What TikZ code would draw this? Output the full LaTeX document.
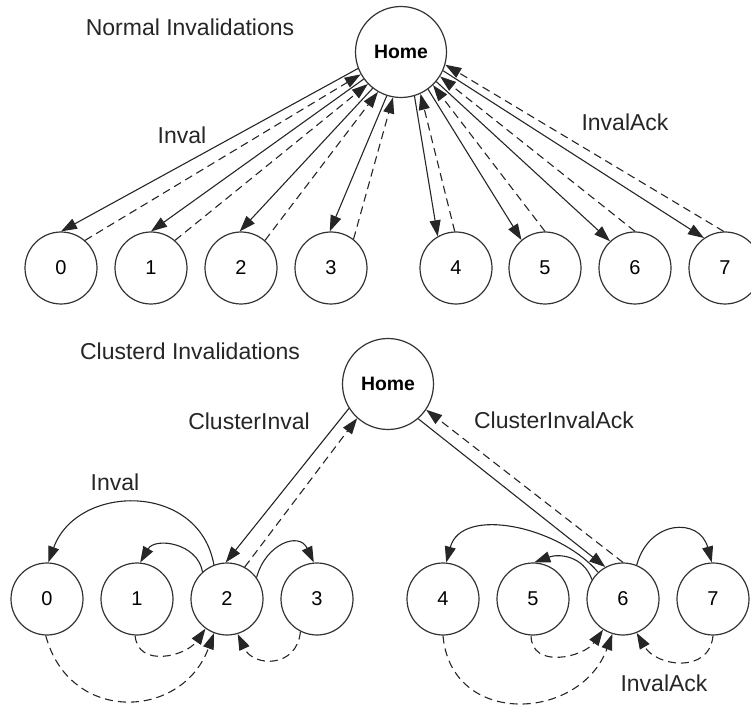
\documentclass[tikz,border=0pt]{standalone}
\usepackage{fontspec}
\setmainfont{Liberation Sans}
\usetikzlibrary{arrows.meta}

\begin{document}
\begin{tikzpicture}[
  x=0.5pt, y=-0.5pt,
  font=\fontsize{11.5pt}{13pt}\selectfont,
  line width=0.55pt,
  proc/.style={circle, draw=black!80, line width=0.6pt, minimum size=36pt,
               inner sep=0pt, font=\fontsize{10pt}{12pt}\selectfont},
  homenode/.style={circle, draw=black!80, line width=0.6pt, minimum size=45.5pt,
                   inner sep=0pt, font=\bfseries\fontsize{9.7pt}{12pt}\selectfont},
  inval/.style={-{Triangle[length=8pt, width=5.5pt]}, draw=black!85},
  ack/.style={inval, dash pattern=on 4pt off 2.5pt},
  lbl/.style={text=black!85, inner sep=0pt}
]
\useasboundingbox (0,0) rectangle (751,706);

% normal invalidations
\node[lbl] (normaltitle) at (190,27) {Normal Invalidations};
\node[homenode] (home) at (401,52) {Home};
\node[proc] (n0) at (61,268) {0};
\node[proc] (n1) at (151,268) {1};
\node[proc] (n2) at (241,268) {2};
\node[proc] (n3) at (331,268) {3};
\node[proc] (n4) at (456,268) {4};
\node[proc] (n5) at (545,268) {5};
\node[proc] (n6) at (635,268) {6};
\node[proc] (n7) at (725,268) {7};
\node[lbl] (invaltop) at (182,135) {Inval};
\node[lbl] (acktop) at (625,122) {InvalAck};

\draw[inval] (home.201) -- (n0.90);
\draw[ack] (n0.49) -- (home.209);
\draw[inval] (home.216) -- (n1.90);
\draw[ack] (n1.49) -- (home.224);
\draw[inval] (home.232) -- (n2.92);
\draw[ack] (n2.49) -- (home.240);
\draw[inval] (home.252) -- (n3.92);
\draw[ack] (n3.52) -- (home.260);
\draw[inval] (home.287) -- (n4.120);
\draw[ack] (n4.92) -- (home.295);
\draw[inval] (home.306) -- (n5.130);
\draw[ack] (n5.90) -- (home.314);
\draw[inval] (home.320) -- (n6.133);
\draw[ack] (n6.90) -- (home.328);
\draw[inval] (home.336) -- (n7.125);
\draw[ack] (n7.92) -- (home.344);

% clustered invalidations
\node[lbl] (clustertitle) at (190,351) {Clusterd Invalidations};
\node[homenode] (chome) at (388,384) {Home};
\node[proc] (c0) at (47,599) {0};
\node[proc] (c1) at (137,599) {1};
\node[proc] (c2) at (227,599) {2};
\node[proc] (c3) at (317,599) {3};
\node[proc] (c4) at (443,599) {4};
\node[proc] (c5) at (533,599) {5};
\node[proc] (c6) at (623,599) {6};
\node[proc] (c7) at (713,599) {7};
\node[lbl] (clinval) at (249,421) {ClusterInval};
\node[lbl] (clack) at (554,420) {ClusterInvalAck};
\node[lbl] (invalbot) at (115,482) {Inval};
\node[lbl] (ackbot) at (664,683) {InvalAck};

\draw[inval] (chome.212) -- (c2.92);
\draw[ack] (c2.61) -- (chome.228);
\draw[inval] (chome.311) -- (c6.119);
\draw[ack] (c6.90) -- (chome.326);

\draw[inval] (c2.111) to[out=100, in=70, looseness=1.3] (c0.88);
\draw[inval] (c2.132) to[out=100, in=60, looseness=1.2] (c1.85);
\draw[inval] (c2.36) to[out=75, in=115, looseness=1.5] (c3.95);
\draw[ack] (c0.268) to[out=285, in=250, looseness=1.4] (c2.249);
\draw[ack] (c1.267) to[out=275, in=235, looseness=1.2] (c2.234);
\draw[ack] (c3.243) to[out=265, in=295, looseness=1.5] (c2.287);

\draw[inval] (c6.133) to[out=130, in=75, looseness=1] (c4.85);
\draw[inval] (c6.148) to[out=110, in=20, looseness=1.1] (c5.88);
\draw[inval] (c6.68) to[out=75, in=105, looseness=1.6] (c7.92);
\draw[ack] (c5.267) to[out=270, in=235, looseness=1.2] (c6.237);
\draw[ack] (c4.270) to[out=275, in=250, looseness=1.4] (c6.253);
\draw[ack] (c7.270) to[out=265, in=300, looseness=1.3] (c6.292);
\end{tikzpicture}
\end{document}
